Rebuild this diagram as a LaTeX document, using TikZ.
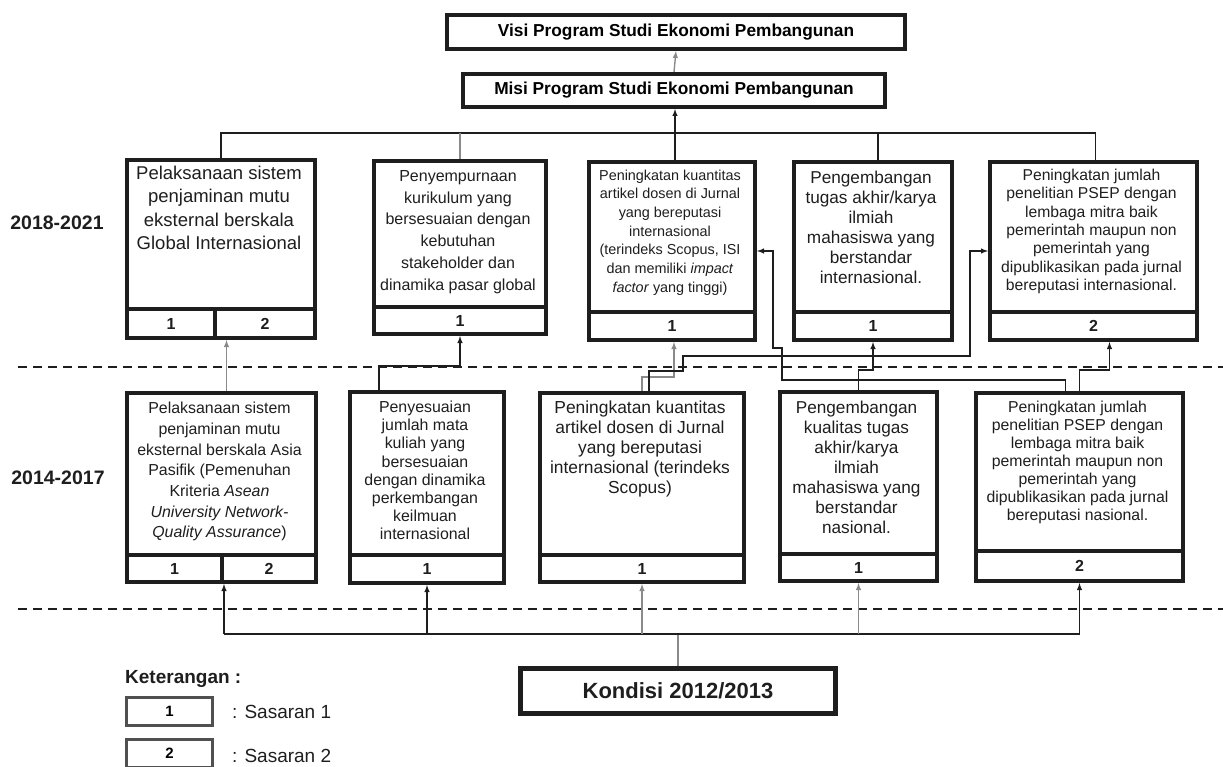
\documentclass[tikz,border=0pt]{standalone}
\usepackage{fontspec}
\setmainfont{Liberation Sans}
\usetikzlibrary{calc}
\definecolor{ink}{HTML}{1E1E1E}
\definecolor{lgray}{HTML}{8A8A8A}
\definecolor{legray}{HTML}{505050}

\begin{document}
\begin{tikzpicture}[>=latex, x=1pt, y=-1pt,
  box/.style={draw=ink, line width=4pt, inner sep=0pt, anchor=north west},
  numcell/.style={box, font=\bfseries\fontsize{16}{18}\selectfont, text=ink},
  txt/.style={anchor=north, inner sep=0pt, align=center, text=ink},
  link/.style={draw=ink, line width=1.4pt},
  glink/.style={draw=lgray, line width=1.4pt},
  dashsep/.style={draw=ink, line width=1.5pt, dash pattern=on 9pt off 6pt},
  yearlbl/.style={font=\bfseries\fontsize{19.5}{22}\selectfont, text=ink},
]
\useasboundingbox (0,0) rectangle (1223,767);

% separators
\draw[dashsep] (18,367) -- (1223,367);
\draw[dashsep] (18,609) -- (1223,609);

% visi / misi
\node[box, anchor=center, minimum width=458pt, minimum height=34pt,
  font=\bfseries\fontsize{17.3}{20}\selectfont] (visi) at (676,32) {Visi Program Studi Ekonomi Pembangunan};
\node[box, anchor=center, minimum width=422pt, minimum height=33pt,
  font=\bfseries\fontsize{17.3}{20}\selectfont] (misi) at (674,90.5) {Misi Program Studi Ekonomi Pembangunan};

% 2018-2021
\node[yearlbl] (y1) at (57,223) {2018-2021};

\node[box, minimum width=188pt, minimum height=149pt] (t1) at (125,158) {};
\node[numcell, minimum width=88pt, minimum height=29pt] (t1a) at (125,307) {1};
\node[numcell, minimum width=100pt, minimum height=29pt] (t1b) at (213,307) {2};
\node[txt, font=\fontsize{18.5}{23.3}\selectfont] (t1t) at (219,166)
  {Pelaksanaan sistem\\penjaminan mutu\\eksternal berskala\\Global Internasional};

\node[box, minimum width=172pt, minimum height=146pt] (t2) at (372,159) {};
\node[numcell, minimum width=172pt, minimum height=27pt] (t2n) at (372,305) {1};
\node[txt, font=\fontsize{16}{21.8}\selectfont] (t2t) at (458,170)
  {Penyempurnaan\\kurikulum yang\\bersesuaian dengan\\kebutuhan\\stakeholder dan\\dinamika pasar global};

\node[box, minimum width=166pt, minimum height=150pt] (t3) at (587,160) {};
\node[numcell, minimum width=166pt, minimum height=28pt] (t3n) at (587,310) {1};
\node[txt, font=\fontsize{14.4}{18.7}\selectfont] (t3t) at (670,169.5)
  {Peningkatan kuantitas\\artikel dosen di Jurnal\\yang bereputasi\\internasional\\(terindeks Scopus, ISI\\dan memiliki \textit{impact}\\\textit{factor} yang tinggi)};

\node[box, minimum width=158pt, minimum height=150pt] (t4) at (792,160) {};
\node[numcell, minimum width=158pt, minimum height=28pt] (t4n) at (792,310) {1};
\node[txt, font=\fontsize{17.2}{20}\selectfont] (t4t) at (871,170.5)
  {Pengembangan\\tugas akhir/karya\\ilmiah\\mahasiswa yang\\berstandar\\internasional.};

\node[box, minimum width=207pt, minimum height=150pt] (t5) at (988,160) {};
\node[numcell, minimum width=207pt, minimum height=28pt] (t5n) at (988,310) {2};
\node[txt, font=\fontsize{15.7}{18.3}\selectfont] (t5t) at (1091.5,169)
  {Peningkatan jumlah\\penelitian PSEP dengan\\lembaga mitra baik\\pemerintah maupun non\\pemerintah yang\\dipublikasikan pada jurnal\\bereputasi internasional.};

% 2014-2017
\node[yearlbl] (y2) at (58,478) {2014-2017};

\node[box, minimum width=189pt, minimum height=162pt] (bA) at (125,391) {};
\node[numcell, minimum width=95pt, minimum height=27pt] (bAa) at (125,553) {1};
\node[numcell, minimum width=94pt, minimum height=27pt] (bAb) at (220,553) {2};
\node[txt, font=\fontsize{15.9}{20.7}\selectfont] (bAt) at (219.5,402)
  {Pelaksanaan sistem\\penjaminan mutu\\eksternal berskala Asia\\Pasifik (Pemenuhan\\Kriteria \textit{Asean}\\\textit{University Network-}\\\textit{Quality Assurance})};

\node[box, minimum width=154pt, minimum height=163pt] (bB) at (348,390) {};
\node[numcell, minimum width=154pt, minimum height=28pt] (bBn) at (348,553) {1};
\node[txt, font=\fontsize{15.9}{18.1}\selectfont] (bBt) at (425,401)
  {Penyesuaian\\jumlah mata\\kuliah yang\\bersesuaian\\dengan dinamika\\perkembangan\\keilmuan\\internasional};

\node[box, minimum width=204pt, minimum height=162pt] (bC) at (538,391) {};
\node[numcell, minimum width=204pt, minimum height=27pt] (bCn) at (538,553) {1};
\node[txt, font=\fontsize{17.4}{20}\selectfont] (bCt) at (640,400.4)
  {Peningkatan kuantitas\\artikel dosen di Jurnal\\yang bereputasi\\internasional (terindeks\\Scopus)};

\node[box, minimum width=157pt, minimum height=162pt] (bD) at (778,390) {};
\node[numcell, minimum width=157pt, minimum height=27pt] (bDn) at (778,552) {1};
\node[txt, font=\fontsize{17.2}{20}\selectfont] (bDt) at (856.5,400.5)
  {Pengembangan\\kualitas tugas\\akhir/karya\\ilmiah\\mahasiswa yang\\berstandar\\nasional.};

\node[box, minimum width=207pt, minimum height=158pt] (bE) at (974,391) {};
\node[numcell, minimum width=207pt, minimum height=30pt] (bEn) at (974,549) {2};
\node[txt, font=\fontsize{15.8}{18}\selectfont] (bEt) at (1077.5,401)
  {Peningkatan jumlah\\penelitian PSEP dengan\\lembaga mitra baik\\pemerintah maupun non\\pemerintah yang\\dipublikasikan pada jurnal\\bereputasi nasional.};

% kondisi
\node[box, line width=5pt, anchor=center, minimum width=315pt, minimum height=45pt,
  font=\bfseries\fontsize{22}{26}\selectfont, text=ink] (kond) at (678,691) {Kondisi 2012/2013};

% legend
\node[anchor=west, inner sep=0pt, font=\bfseries\fontsize{19}{22}\selectfont, text=ink] (ket) at (125,679) {Keterangan :};
\node[box, draw=legray, line width=3pt, anchor=center, minimum width=86pt, minimum height=28pt,
  font=\bfseries\fontsize{15}{17}\selectfont] (lg1) at (169.5,711.5) {1};
\node[box, draw=legray, line width=3pt, anchor=center, minimum width=86pt, minimum height=28pt,
  font=\bfseries\fontsize{15}{17}\selectfont] (lg2) at (169.5,753.5) {2};
\node[anchor=west, inner sep=0pt, font=\fontsize{19}{22}\selectfont, text=ink] (lg1t) at (232,712) {: Sasaran 1};
\node[anchor=west, inner sep=0pt, font=\fontsize{19}{22}\selectfont, text=ink] (lg2t) at (232,756) {: Sasaran 2};

% top bus
\coordinate (bus) at (675,133);
\draw[link] (t1.north) |- (bus) -| ([xshift=2pt]t5.north);
\draw[link,->] (bus) -- (bus |- misi.south);
\draw[link] (bus) -- (bus |- t3.north);
\draw[glink] (t2.north) -- (t2.north |- bus);
\draw[link] ([xshift=5pt]t4.north) -- ([xshift=5pt]t4.north |- bus);
\draw[glink,->] (misi.north) -- (visi.south);

% 2014-2017 -> 2018-2021
\draw[glink,->] ([xshift=5pt]bA.north) -- ([xshift=5pt]bA.north |- t1b.south);
\draw[link,->] ([xshift=-48pt]bB.north) -- ++(0,-24) -| (t2n.south);
\draw[glink,->] (bC.north) -- ++(0,-14) -| ([xshift=2pt]t3n.south);
\draw[link,->] ([xshift=7pt]bC.north) -- ++(0,-20) -- ++(34,0) -- ++(0,-15) -- ++(287,0) |- ([yshift=-14pt]t5.west);
\draw[link,->] (bD.north) -- ++(0,-20) -| (t4n.south);
\draw[link,->] (bE.north) -- ++(0,-21) -| ([xshift=16pt]t5n.south);
\draw[link,->] ([xshift=-14pt]bE.north) -- ++(0,-11) -- ++(-283.5,0) -- ++(0,-32) -- ++(-9,0) |- ([yshift=-14pt]t3.east);

% bottom bus
\coordinate (kbus) at (678,634);
\draw[glink] (kond.north) -- (kbus);
\draw[link] (kbus -| bAa.south east) -- (kbus -| bEn.south);
\draw[link,->] (kbus -| bAa.south east) -- (bAa.south east);
\draw[link,->] (kbus -| bBn.south) -- (bBn.south);
\draw[glink,->] (kbus -| bCn.south) -- (bCn.south);
\draw[glink,->] (kbus -| bDn.south) -- (bDn.south);
\draw[link,->] (kbus -| bEn.south) -- (bEn.south);
\end{tikzpicture}
\end{document}
